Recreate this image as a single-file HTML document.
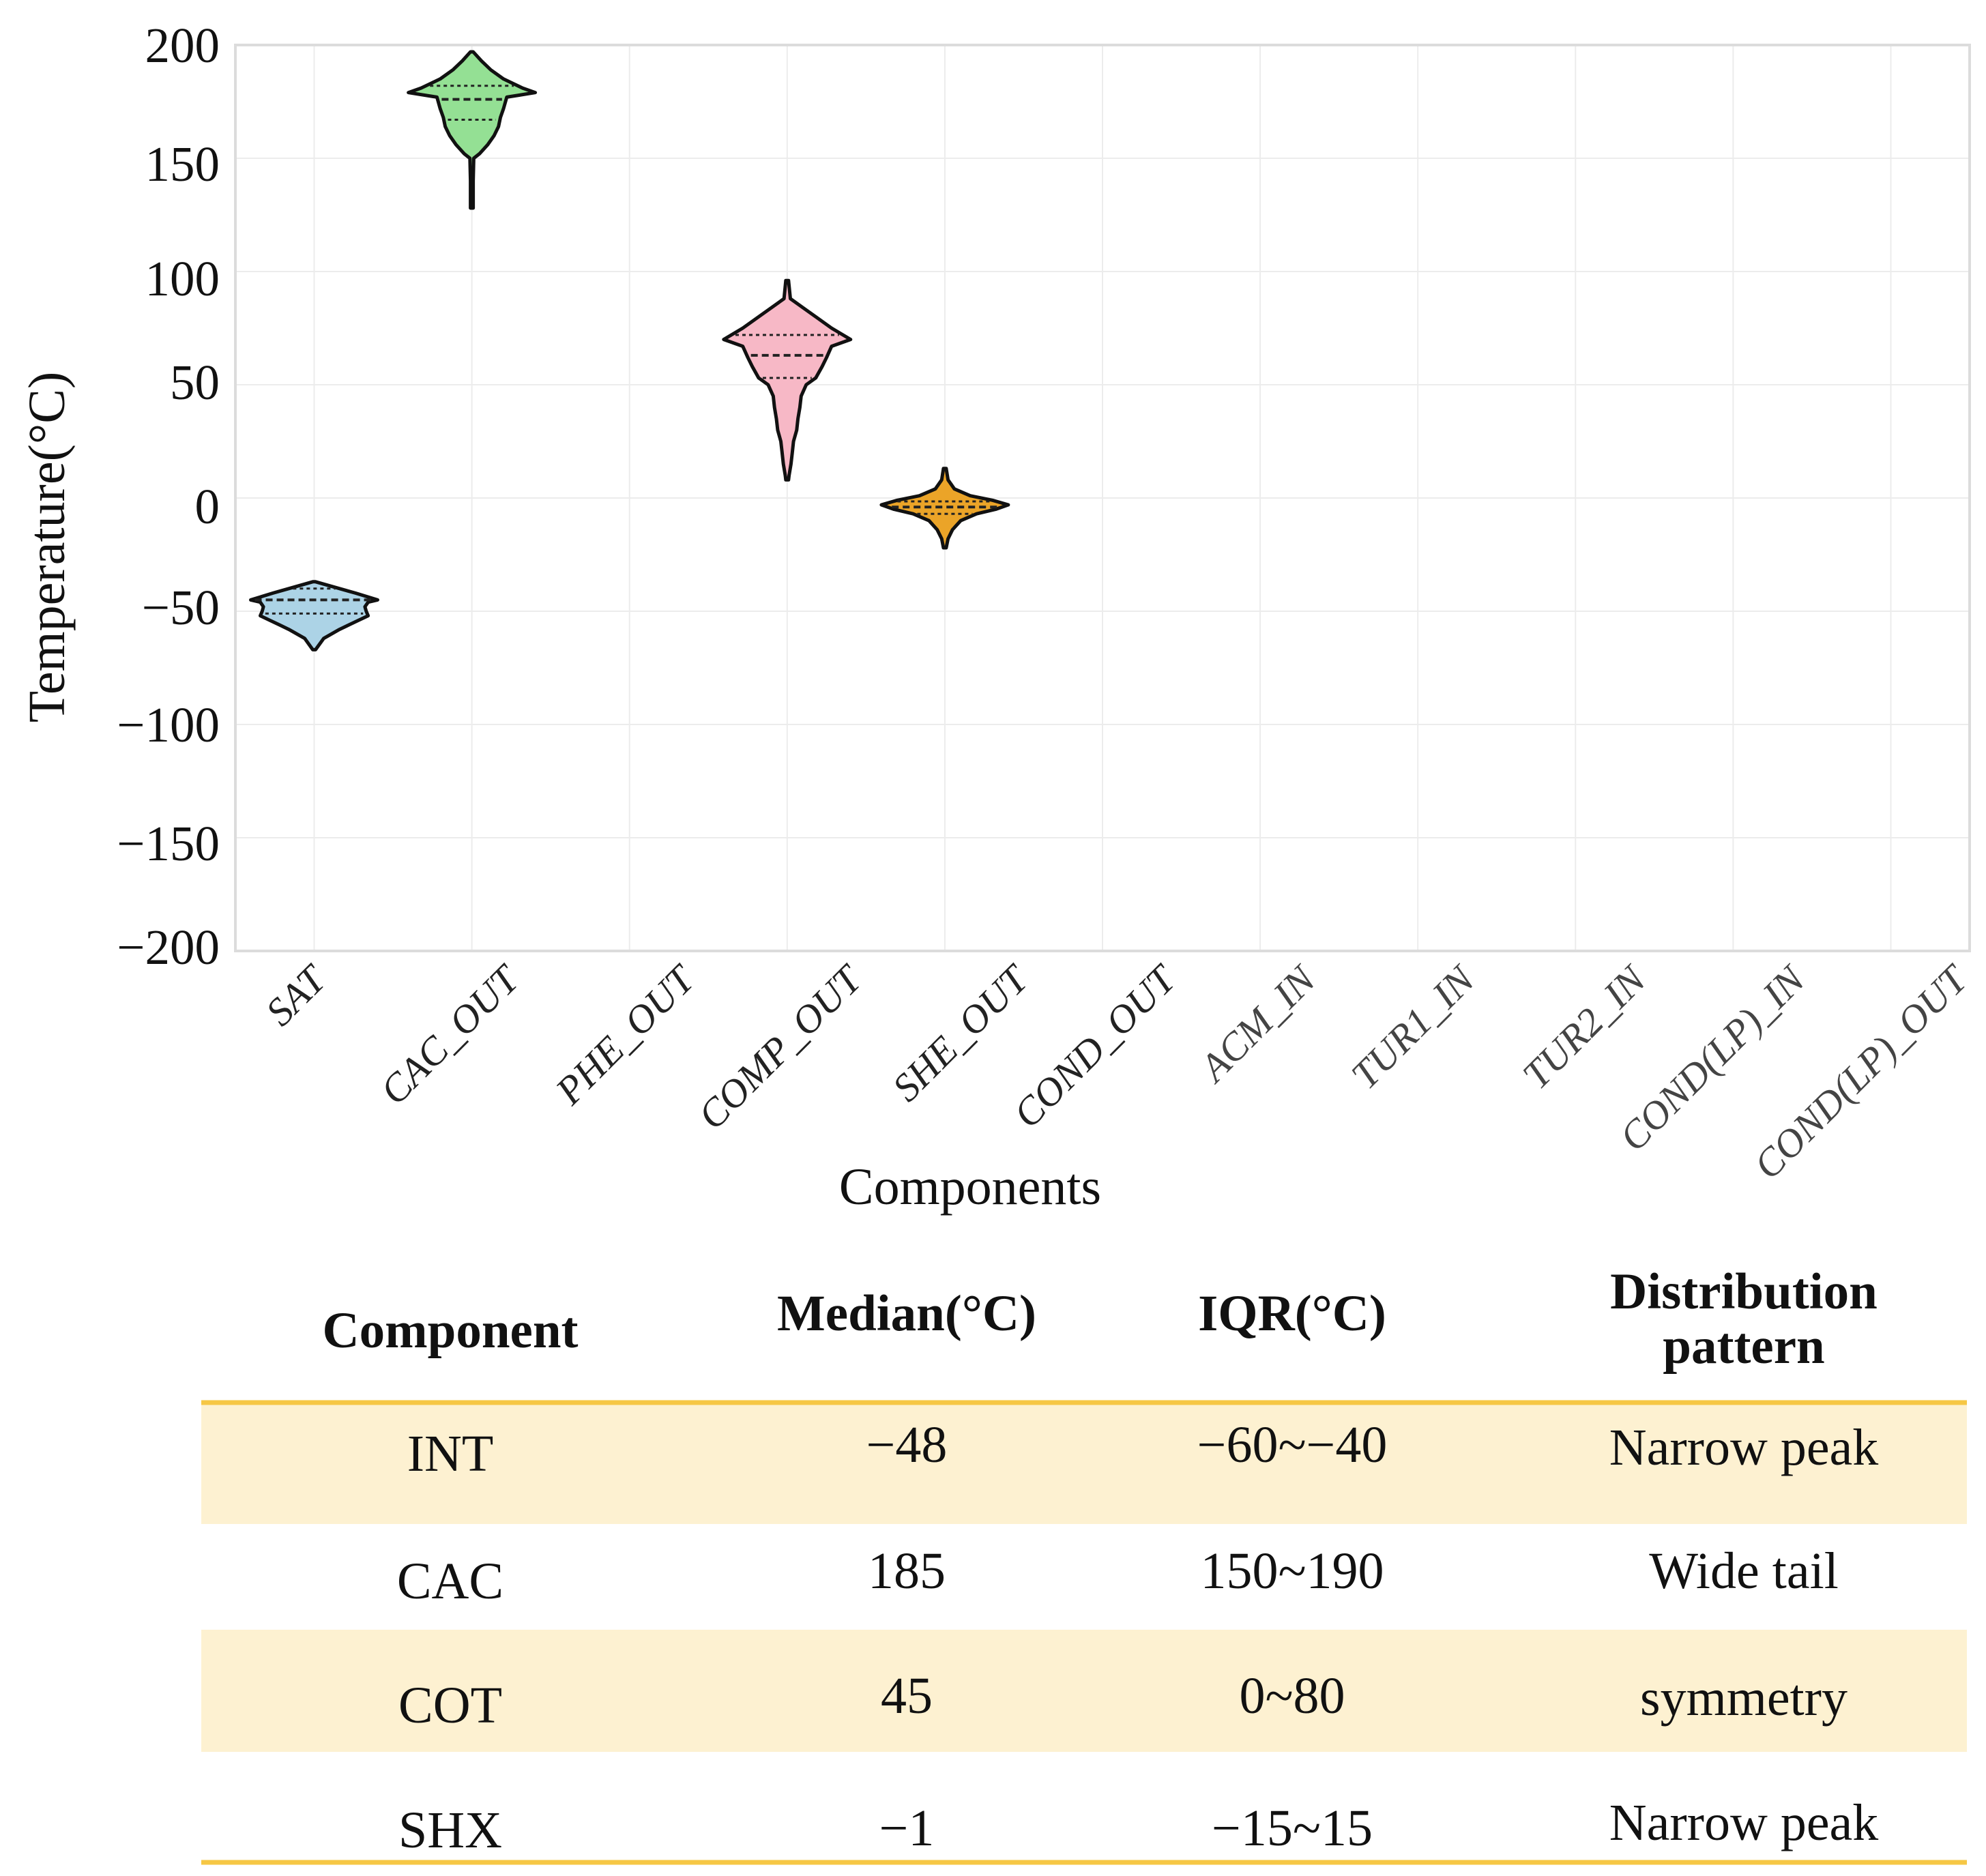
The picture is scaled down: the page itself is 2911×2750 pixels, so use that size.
<!DOCTYPE html>
<html><head><meta charset="utf-8"><style>
html,body{margin:0;padding:0;background:#fff;}
body{width:2911px;height:2750px;overflow:hidden;position:relative;font-family:"Liberation Serif",serif;}
svg{position:absolute;left:0;top:0;}
</style></head><body>
<svg id="chart" width="2911" height="2750" xmlns="http://www.w3.org/2000/svg"></svg>
<script>
const categories=["SAT","CAC_OUT","PHE_OUT","COMP_OUT","SHE_OUT","COND_OUT","ACM_IN","TUR1_IN","TUR2_IN","COND(LP)_IN","COND(LP)_OUT"];
const yTicks=[200,150,100,50,0,-50,-100,-150,-200];
const yTickLabels=["200","150","100","50","0","\u221250","\u2212100","\u2212150","\u2212200"];
const satValues=[-37,-40,-42,-45,-46,-48,-50,-52,-54,-56,-58,-62,-67];
const satDensity=[0,0.4,0.65,1.0,0.85,0.8,0.82,0.85,0.7,0.55,0.4,0.15,0];
const satQuart=[-40,-45,-51];
const cacValues=[197,193,189,185,181,179,177,172,168,164,160,156,152,150,140,128];
const cacDensity=[0,0.15,0.3,0.5,0.8,1.0,0.55,0.5,0.45,0.42,0.35,0.25,0.12,0.03,0.02,0];
const cacQuart=[182,176,167];
const compValues=[96,88,84,80,75,70,67,62,58,53,50,45,40,35,30,25,20,15,10,8];
const compDensity=[0,0.05,0.25,0.45,0.7,1.0,0.7,0.62,0.55,0.45,0.3,0.22,0.2,0.17,0.15,0.1,0.08,0.06,0.03,0];
const compQuart=[72,63,53];
const sheValues=[13,8,4,1,-1,-3,-5,-7,-10,-14,-18,-22];
const sheDensity=[0,0.05,0.15,0.4,0.75,1.0,0.8,0.5,0.25,0.12,0.05,0];
const sheQuart=[-1.5,-4,-7];
const violins=[
 {cat:0,vals:satValues,dens:satDensity,q:satQuart,fill:"#acd3e6",name:"violin-sat"},
 {cat:1,vals:cacValues,dens:cacDensity,q:cacQuart,fill:"#94e094",name:"violin-cac-out"},
 {cat:3,vals:compValues,dens:compDensity,q:compQuart,fill:"#f7b8c6",name:"violin-comp-out"},
 {cat:4,vals:sheValues,dens:sheDensity,q:sheQuart,fill:"#eba428",name:"violin-she-out"}
];
const NS="http://www.w3.org/2000/svg";
const svg=document.getElementById("chart");
const PL=345,PR=2887,PT=66,PB=1394;
const yMin=-200,yMax=200;
function yScale(v){return PB-(v-yMin)/(yMax-yMin)*(PB-PT);}
const step=(PR-PL)/categories.length;
function xScale(i){return PL+step*(i+0.5);}
const maxHalf=93;
function mk(tag,attrs,parent){const e=document.createElementNS(NS,tag);for(const k in attrs)e.setAttribute(k,attrs[k]);(parent||svg).appendChild(e);return e;}
yTicks.forEach((t,i)=>{
 const g=mk("line",{x1:PL,x2:PR,y1:yScale(t),y2:yScale(t),stroke:"#ececec","stroke-width":2});
 
 
});
categories.forEach((c,i)=>{
 const g=mk("line",{x1:xScale(i),x2:xScale(i),y1:PT,y2:PB,stroke:"#ececec","stroke-width":2});
 
 
});
const frame=mk("rect",{x:PL,y:PT,width:PR-PL,height:PB-PT,fill:"none",stroke:"#dcdcdc","stroke-width":4});


const labelOff=[0,8,10,-4,12,-6,0,8,-6];
yTicks.forEach((t,i)=>{
 const tx=mk("text",{x:322,y:yScale(t)+labelOff[i]+25,"text-anchor":"end","font-size":73,fill:"#111"});
 tx.textContent=yTickLabels[i];
 
 
});
const labelShift=[20,72,98,112,125,110,84,86,106,108,115];
categories.forEach((c,i)=>{
 const x=xScale(i)+labelShift[i],y=1440;
 const tx=mk("text",{x:x,y:y,"text-anchor":"end","font-size":58,"font-style":"italic",fill:i<6?"#222":"#444",transform:`rotate(-45 ${x} ${y})`});
 tx.textContent=c;
 
 
});
const xt=mk("text",{x:1422,y:1765,"text-anchor":"middle","font-size":76,fill:"#111"});
xt.textContent="Components";


const yt=mk("text",{x:94,y:802,"text-anchor":"middle","font-size":76,fill:"#111",transform:"rotate(-90 94 802)"});
yt.textContent="Temperature(°C)";


function densAt(vals,dens,v){
 for(let i=0;i<vals.length-1;i++){const a=vals[i],b=vals[i+1];if((v<=a&&v>=b)){const t=(a-v)/(a-b);return dens[i]+(dens[i+1]-dens[i])*t;}}
 return 0;
}
violins.forEach(vl=>{
 const cx=xScale(vl.cat);
 const g=mk("g",{});
 
 
 let pts=[];
 vl.vals.forEach((v,i)=>pts.push([cx+Math.max(vl.dens[i]*maxHalf,2),yScale(v)]));
 for(let i=vl.vals.length-1;i>=0;i--)pts.push([cx-Math.max(vl.dens[i]*maxHalf,2),yScale(vl.vals[i])]);
 const p=mk("path",{d:"M"+pts.map(p=>p[0].toFixed(1)+","+p[1].toFixed(1)).join("L")+"Z",fill:vl.fill,stroke:"#111","stroke-width":5,"stroke-linejoin":"round"},g);
 
 
 vl.q.forEach((qv,k)=>{
  const w=densAt(vl.vals,vl.dens,qv)*maxHalf-6;
  const l=mk("line",{x1:cx-w,x2:cx+w,y1:yScale(qv),y2:yScale(qv),stroke:"#222","stroke-width":k==1?4:3,"stroke-dasharray":k==1?"10 6":"5 5"},g);
  
  
 });
});
const tableRows=[["INT","\u221248","\u221260~\u221240","Narrow peak"],["CAC","185","150~190","Wide tail"],["COT","45","0~80","symmetry"],["SHX","\u22121","\u221215~15","Narrow peak"]];
const colX=[660,1329,1894,2556];
const rowTop=[2056,2234,2389,2568,2730];
rowTop.slice(0,4).forEach((t,i)=>{
 if(i%2==0){const r=mk("rect",{x:295,y:t,width:2588,height:rowTop[i+1]-t,fill:"#fdf1d1"});
 
 }
});
[2056,2730].forEach(y=>{
 const l=mk("line",{x1:295,x2:2883,y1:y,y2:y,stroke:"#f6c745","stroke-width":7});
 
 
});
const hdr=[["Component",1975],["Median(°C)",1950],["IQR(°C)",1950]];
hdr.forEach((h,i)=>{
 const t=mk("text",{x:colX[i],y:h[1],"text-anchor":"middle","font-size":75,"font-weight":"bold",fill:"#111"});
 t.textContent=h[0];
 
 
});
["Distribution","pattern"].forEach((s,i)=>{
 const t=mk("text",{x:2556,y:1918+i*80,"text-anchor":"middle","font-size":75,"font-weight":"bold",fill:"#111"});
 t.textContent=s;
 
 
});
const rowY=[[2156,2143,2143,2147],[2343,2328,2328,2328],[2525,2511,2511,2514],[2708,2705,2705,2697]];
tableRows.forEach((r,i)=>r.forEach((c,j)=>{
 const t=mk("text",{x:colX[j],y:rowY[i][j],"text-anchor":"middle","font-size":76,fill:"#111"});
 t.textContent=c;
 
 
}));
</script>
</body></html>
